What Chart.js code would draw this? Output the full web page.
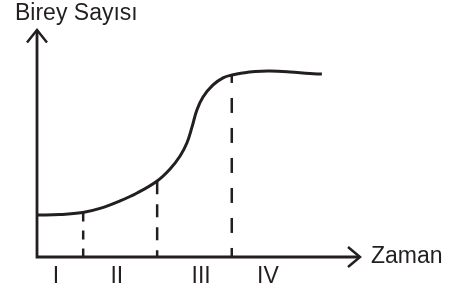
<!DOCTYPE html>
<html>
<head>
<meta charset="utf-8">
<script src="https://cdn.jsdelivr.net/npm/chart.js@4"></script>
<style>
    body { margin: 0; background: #fff; }
</style>
</head>
<body>
<canvas id="growthChart" width="455" height="290"></canvas>
<script>
// Birey sayısı eğrisi (okunan değerler, 0-100 ölçeği)
const timeValues = [0, 7.1, 14.2, 19.5, 25.7, 31.0, 37.2, 41.2, 44.3, 46.4, 48.0, 49.5, 51.4, 54.5, 57.6, 60.4, 63.8, 67.5, 72.1, 78.3, 84.5, 88.2];
const populationValues = [18.5, 18.7, 19.6, 21.4, 24.7, 28.2, 33.5, 38.8, 44.5, 50.2, 57.3, 64.8, 70.5, 75.8, 78.9, 80.2, 81.1, 81.7, 81.9, 81.5, 80.8, 80.6];

// Evre sınırları (kesikli çizgiler) ve eğrideki yükseklikleri
const phaseBounds = [14.3, 37.2, 60.3];
const phaseTops = [19.6, 33.4, 80.2];

// Evre etiketleri
const phaseLabels = ['I', 'II', 'III', 'IV'];
const phaseLabelX = [5.9, 24.7, 50.8, 71.5];

const ink = '#231f20';
const font = '23px "Liberation Sans", Arial, sans-serif';

const dashStyles = [[9, 9], [13, 10], [15, 15]];
const dashOffsets = [0, 0, 7];

const curveData = timeValues.map((t, i) => ({x: t, y: populationValues[i]}));

const boundDatasets = phaseBounds.map((b, i) => ({
    data: [{x: b, y: phaseTops[i]}, {x: b, y: 0}],
    borderColor: ink,
    borderWidth: 2.5,
    borderDash: dashStyles[i],
    borderDashOffset: dashOffsets[i],
    pointRadius: 0,
    tension: 0
}));

// Eksenler, oklar ve yazılar
const axisArrows = {
    id: 'axisArrows',
    afterDatasetsDraw(chart) {
        const {ctx, chartArea: a} = chart;
        const xScale = chart.scales.x;
        ctx.save();
        ctx.strokeStyle = ink;
        ctx.fillStyle = ink;
        ctx.lineWidth = 2.8;

        // eksen çizgileri
        ctx.beginPath();
        ctx.moveTo(a.left, a.top);
        ctx.lineTo(a.left, a.bottom);
        ctx.lineTo(a.right, a.bottom);
        ctx.stroke();

        // oklar
        ctx.lineWidth = 2.5;
        ctx.beginPath();
        ctx.moveTo(a.left - 10, a.top + 12.5);
        ctx.lineTo(a.left, a.top);
        ctx.lineTo(a.left + 10, a.top + 12.5);
        ctx.moveTo(a.right - 12, a.bottom - 10);
        ctx.lineTo(a.right, a.bottom);
        ctx.lineTo(a.right - 12, a.bottom + 10);
        ctx.stroke();

        ctx.font = font;
        ctx.textBaseline = 'alphabetic';
        ctx.textAlign = 'left';
        ctx.fillText('Birey Sayısı', 15, 20);
        ctx.fillText('Zaman', a.right + 11, a.bottom + 6);

        ctx.textAlign = 'center';
        phaseLabels.forEach((lbl, i) => {
            ctx.fillText(lbl, xScale.getPixelForValue(phaseLabelX[i]), 283);
        });
        ctx.restore();
    }
};

new Chart(document.getElementById('growthChart'), {
    type: 'line',
    data: {
        datasets: [{
                data: curveData,
                borderColor: ink,
                borderWidth: 3,
                pointRadius: 0,
                tension: 0.4
            }, ...boundDatasets]
    },
    options: {
        responsive: false,
        animation: false,
        layout: {padding: {left: 37, top: 30, right: 95, bottom: 33}},
        scales: {
            x: {type: 'linear', min: 0, max: 100, display: false},
            y: {min: 0, max: 100, display: false}
        },
        plugins: {
            legend: {display: false},
            tooltip: {enabled: false}
        }
    },
    plugins: [axisArrows]
});
</script>
</body>
</html>
